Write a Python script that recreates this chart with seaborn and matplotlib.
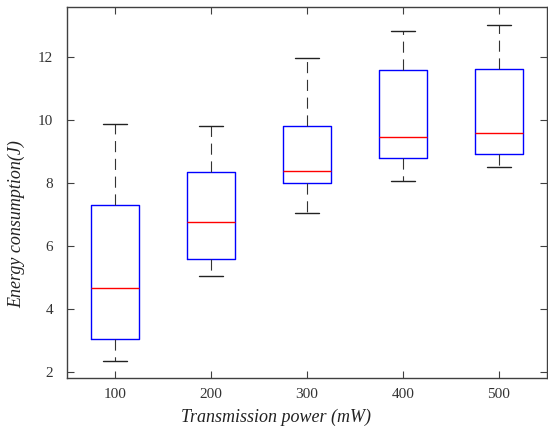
import numpy as np
import pandas as pd
import matplotlib
matplotlib.use("Agg")
import matplotlib.pyplot as plt
import seaborn as sns

powers = ["100", "200", "300", "400", "500"]
# five-number summaries: min, Q1, median, Q3, max
p100 = [2.35, 3.05, 4.66, 7.30, 9.87]
p200 = [5.05, 5.59, 6.76, 8.35, 9.81]
p300 = [7.05, 7.99, 8.39, 9.82, 11.97]
p400 = [8.06, 8.80, 9.45, 11.58, 12.83]
p500 = [8.52, 8.93, 9.60, 11.63, 13.03]
yticks = [2, 4, 6, 8, 10, 12]

rows = []
for name, vals in zip(powers, [p100, p200, p300, p400, p500]):
    for v in vals:
        rows.append({"power": name, "energy": v})
df = pd.DataFrame(rows)

sns.set_theme(style="white")
plt.rcParams["font.family"] = ["Liberation Serif", "DejaVu Serif"]

fig = plt.figure(figsize=(5.48, 4.36), dpi=100)
ax = fig.add_axes([0.1223, 0.133, 0.8757, 0.851])

sns.boxplot(
    data=df, x="power", y="energy", order=powers, ax=ax,
    whis=(0, 100), width=0.5, fill=False, linewidth=1.0,
    boxprops=dict(color="blue", linewidth=1.0),
    medianprops=dict(color="red", linewidth=1.0),
    whiskerprops=dict(color="#333333", linewidth=0.8, linestyle=(0, (10, 6))),
    capprops=dict(color="#222222", linewidth=1.0),
    capwidths=0.25,
    showfliers=False,
)

ax.set_xlim(-0.5, 4.5)
ax.set_ylim(1.81, 13.59)
ax.set_yticks(yticks)
ax.set_yticklabels([str(t) for t in yticks])
ax.set_xlabel("Transmission power (mW)", fontsize=13, style="italic",
              color="#222222")
ax.set_ylabel("Energy consumption(J)", fontsize=13, style="italic",
              color="#222222")
ax.xaxis.set_label_coords(0.435, -0.082)
ax.yaxis.set_label_coords(-0.088, 0.415)
ax.tick_params(direction="in", length=5, width=0.8, colors="#404040",
               labelcolor="#333333", labelsize=11,
               top=True, right=True, bottom=True, left=True)
ax.tick_params(axis="x", pad=7)
ax.tick_params(axis="y", pad=10)
for s in ax.spines.values():
    s.set_color("#404040")
    s.set_linewidth(1.0)
    s.set_visible(True)
ax.grid(False)

fig.savefig("out.png", dpi=100)
